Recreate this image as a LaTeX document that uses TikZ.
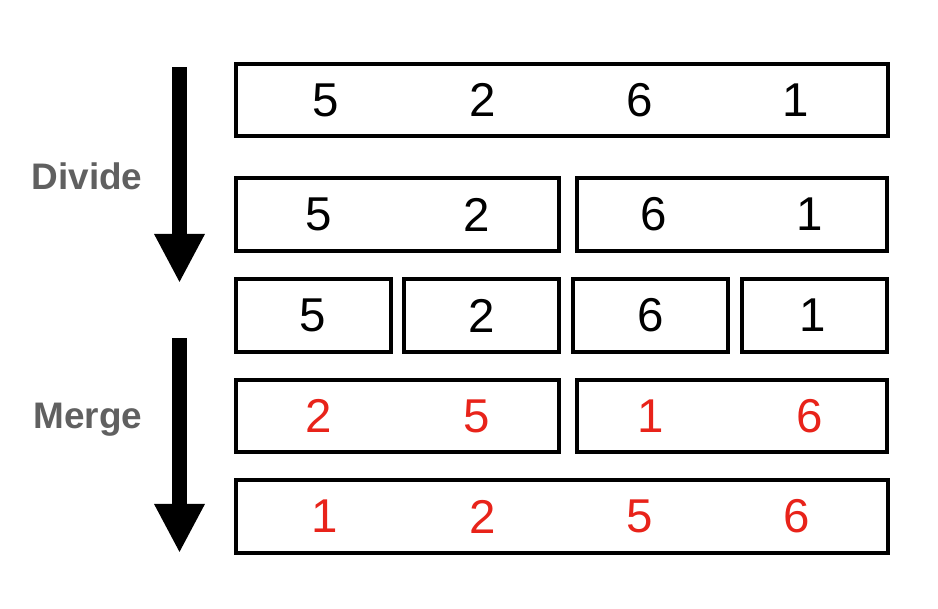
\documentclass[tikz,border=0pt]{standalone}
\usepackage{fontspec}
\setmainfont{Liberation Sans}
\usetikzlibrary{arrows.meta}
\definecolor{numred}{RGB}{232,35,26}
\definecolor{labelgray}{RGB}{96,96,96}

\begin{document}
\begin{tikzpicture}[x=0.01cm,y=-0.01cm,
    cell/.style={draw, line width=0.04cm, inner sep=0pt, minimum height=0.725cm},
    num/.style={font=\fontsize{13.5}{16}\selectfont},
    steplabel/.style={text=labelgray, font=\bfseries\fontsize{10.5}{12}\selectfont},
    bigarrow/.style={line width=0.14cm, -{Triangle[width=0.47cm,length=0.49cm]}}]
      \useasboundingbox (0,0) rectangle (938,608);
      % rows of boxes
      \node[cell, minimum width=6.52cm] (whole) at (562,100) {};
      \node[cell, minimum width=3.23cm] (halfa) at (397.5,214.5) {};
      \node[cell, minimum width=3.10cm] (halfb) at (732,214.5) {};
      \node[cell, minimum width=1.55cm] (quarta) at (313.5,315.5) {};
      \node[cell, minimum width=1.55cm] (quartb) at (481.5,315.5) {};
      \node[cell, minimum width=1.55cm] (quartc) at (650.5,315.5) {};
      \node[cell, minimum width=1.45cm] (quartd) at (814.5,315.5) {};
      \node[cell, minimum width=3.23cm] (mergea) at (397.5,416) {};
      \node[cell, minimum width=3.10cm] (mergeb) at (732,416) {};
      \node[cell, minimum width=6.52cm] (sorted) at (562,516.5) {};
      % numbers
      \foreach \x/\v [count=\i] in {326/5, 483/2, 640/6, 796/1}
        \node[num] (top\i) at (\x,100) {\v};
      \foreach \x/\v [count=\i] in {319/5, 477/2, 654/6, 810/1}
        \node[num] (half\i) at (\x,214.5) {\v};
      \foreach \x/\v [count=\i] in {313/5, 482/2, 651/6, 813/1}
        \node[num] (quart\i) at (\x,315.5) {\v};
      \foreach \x/\v [count=\i] in {319/2, 477/5, 651/1, 810/6}
        \node[num, text=numred] (merge\i) at (\x,416) {\v};
      \foreach \x/\v [count=\i] in {325/1, 483/2, 640/5, 797/6}
        \node[num, text=numred] (final\i) at (\x,516.5) {\v};
      % arrows and labels
      \coordinate (divtop) at (179.5,67);
      \coordinate (divtip) at (179.5,283);
      \coordinate (mrgtop) at (179.5,338);
      \coordinate (mrgtip) at (179.5,553);
      \draw[bigarrow] (divtop) -- (divtip);
      \draw[bigarrow] (mrgtop) -- (mrgtip);
      \node[steplabel] (divide) at (87,176) {Divide};
      \node[steplabel] (merge) at (88,420) {Merge};
    \end{tikzpicture}
\end{document}
